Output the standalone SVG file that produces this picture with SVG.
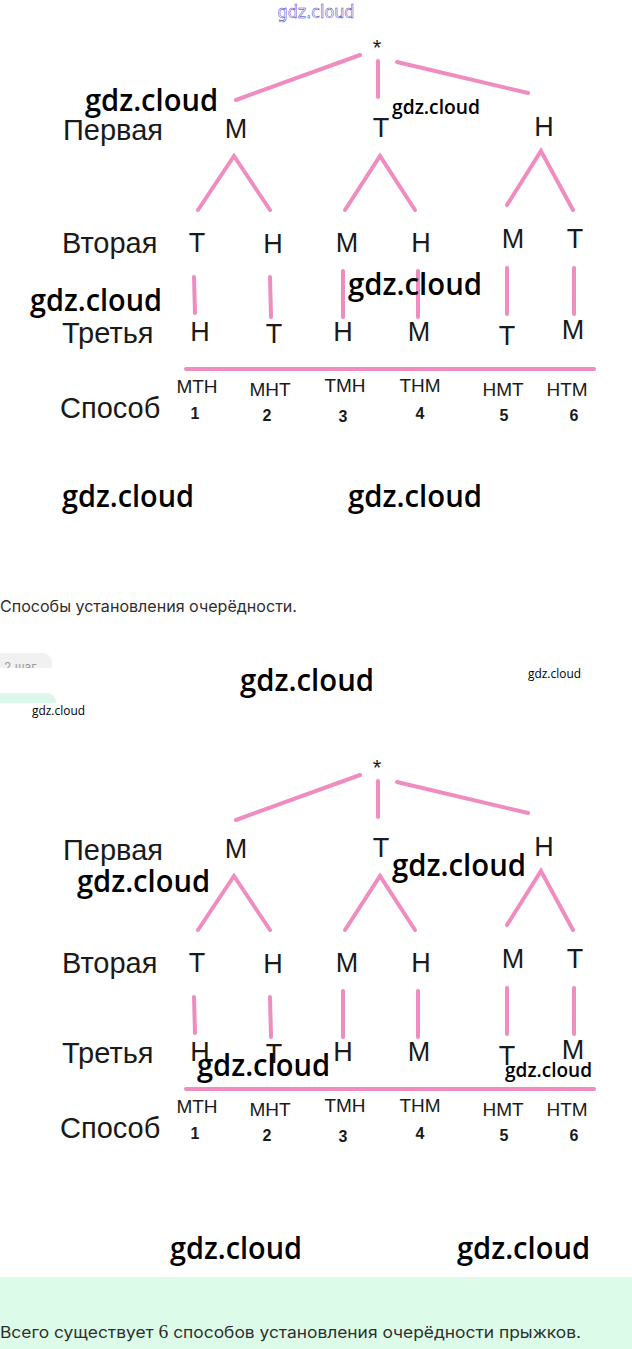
<svg xmlns="http://www.w3.org/2000/svg" width="632" height="1349" viewBox="0 0 632 1349">
<style>
.bg{fill:#ffffff}
.ln{stroke:#ef8cc0;stroke-width:4;stroke-linecap:round;fill:none}
.lt{font-family:"Liberation Sans",Arial,sans-serif;font-size:27px;fill:#1a1a1a;text-anchor:middle}
.lb{font-family:"Liberation Sans",Arial,sans-serif;font-size:29px;fill:#1a1a1a}
.cd{font-family:"Liberation Sans",Arial,sans-serif;font-size:19px;fill:#1a1a1a;text-anchor:middle}
.nm{font-family:"Liberation Sans",Arial,sans-serif;font-size:16px;font-weight:bold;fill:#1a1a1a;text-anchor:middle}
.st{font-family:"Liberation Sans",Arial,sans-serif;font-size:22px;fill:#1a1a1a;text-anchor:middle}
.wm{font-family:"Open Sans","Noto Sans",sans-serif;font-weight:600;fill:#000}
.wb{font-size:30px}
.wmm{font-size:19px}
.ws{font-size:12px;font-weight:400}
.body{font-family:Inter,"Noto Sans",sans-serif;font-size:16px;fill:#2e2e2e}
</style>
<rect class="bg" x="0" y="0" width="632" height="1349"/>
<text x="316" y="18" text-anchor="middle" font-family="'DejaVu Sans',sans-serif" font-size="17" fill="#ffffff" stroke="#3434c8" stroke-width="0.5" textLength="77" lengthAdjust="spacingAndGlyphs">gdz.cloud</text>

<!-- Diagram 1 -->
<g id="diagram1">
<g id="connectors1">
<line class="ln" x1="236" y1="100" x2="360" y2="55"/>
<line class="ln" x1="378" y1="61" x2="378" y2="97"/>
<line class="ln" x1="397" y1="62" x2="528" y2="93"/>
<polyline class="ln" points="198,210 234,156 270,210"/>
<polyline class="ln" points="345,210 380,156 415,210"/>
<polyline class="ln" points="507,205 541,151 573,210"/>
<line class="ln" x1="194" y1="277" x2="195" y2="313"/>
<line class="ln" x1="270" y1="277" x2="271" y2="317"/>
<line class="ln" x1="343" y1="271" x2="343" y2="317"/>
<line class="ln" x1="418" y1="271" x2="418" y2="317"/>
<line class="ln" x1="507" y1="268" x2="507" y2="314"/>
<line class="ln" x1="574" y1="268" x2="574" y2="314"/>
<line class="ln" x1="186" y1="369" x2="594" y2="369"/>
</g>
<g id="root1"><text class="st" x="377" y="55">*</text></g>
<g id="labels1">
<text class="lb" x="63" y="140">Первая</text>
<text class="lb" x="62" y="253">Вторая</text>
<text class="lb" x="62" y="343">Третья</text>
<text class="lb" x="60" y="418">Способ</text>
</g>
<g id="l1-M"><text class="lt" x="236" y="138">М</text></g>
<g id="l1-T"><text class="lt" x="381" y="137">Т</text></g>
<g id="l1-H"><text class="lt" x="544" y="136">Н</text></g>
<g id="l2-1"><text class="lt" x="197" y="252">Т</text></g>
<g id="l2-2"><text class="lt" x="273" y="253">Н</text></g>
<g id="l2-3"><text class="lt" x="347" y="252">М</text></g>
<g id="l2-4"><text class="lt" x="421" y="252">Н</text></g>
<g id="l2-5"><text class="lt" x="513" y="248">М</text></g>
<g id="l2-6"><text class="lt" x="575" y="248">Т</text></g>
<g id="l3-1"><text class="lt" x="200" y="341">Н</text></g>
<g id="l3-2"><text class="lt" x="274" y="343">Т</text></g>
<g id="l3-3"><text class="lt" x="343" y="341">Н</text></g>
<g id="l3-4"><text class="lt" x="419" y="341">М</text></g>
<g id="l3-5"><text class="lt" x="507" y="345">Т</text></g>
<g id="l3-6"><text class="lt" x="573" y="339">М</text></g>
<g id="way1-1"><text class="cd" x="197" y="393">МТН</text><text class="nm" x="195" y="419">1</text></g>
<g id="way1-2"><text class="cd" x="270" y="396">МНТ</text><text class="nm" x="267" y="421">2</text></g>
<g id="way1-3"><text class="cd" x="345" y="392">ТМН</text><text class="nm" x="343" y="422">3</text></g>
<g id="way1-4"><text class="cd" x="420" y="392">ТНМ</text><text class="nm" x="420" y="419">4</text></g>
<g id="way1-5"><text class="cd" x="503" y="396">НМТ</text><text class="nm" x="504" y="421">5</text></g>
<g id="way1-6"><text class="cd" x="567" y="396">НТМ</text><text class="nm" x="574" y="421">6</text></g>
</g>

<text class="body" x="0" y="612" textLength="297" lengthAdjust="spacingAndGlyphs">Способы установления очерёдности.</text>

<g id="badge">
<rect x="-10" y="653" width="62" height="22" rx="9" fill="#f1f1f1"/>
<text x="4" y="671" font-family="Inter,'Noto Sans',sans-serif" font-size="12" fill="#9a9a9a">2 шаг</text>
<rect x="-10" y="668" width="70" height="14" fill="#ffffff"/>
<rect x="-10" y="693" width="66" height="22" rx="9" fill="#dcf8ea"/>
<rect x="-10" y="703" width="80" height="14" fill="#ffffff"/>
</g>

<!-- Diagram 2 -->
<g id="diagram2" transform="translate(0,720)">
<g id="connectors2">
<line class="ln" x1="236" y1="100" x2="360" y2="55"/>
<line class="ln" x1="378" y1="61" x2="378" y2="97"/>
<line class="ln" x1="397" y1="62" x2="528" y2="93"/>
<polyline class="ln" points="198,210 234,156 270,210"/>
<polyline class="ln" points="345,210 380,156 415,210"/>
<polyline class="ln" points="507,205 541,151 573,210"/>
<line class="ln" x1="194" y1="277" x2="195" y2="313"/>
<line class="ln" x1="270" y1="277" x2="271" y2="317"/>
<line class="ln" x1="343" y1="271" x2="343" y2="317"/>
<line class="ln" x1="418" y1="271" x2="418" y2="317"/>
<line class="ln" x1="507" y1="268" x2="507" y2="314"/>
<line class="ln" x1="574" y1="268" x2="574" y2="314"/>
<line class="ln" x1="186" y1="369" x2="594" y2="369"/>
</g>
<g id="root2"><text class="st" x="377" y="55">*</text></g>
<g id="labels2">
<text class="lb" x="63" y="140">Первая</text>
<text class="lb" x="62" y="253">Вторая</text>
<text class="lb" x="62" y="343">Третья</text>
<text class="lb" x="60" y="418">Способ</text>
</g>
<g id="l1-M-2"><text class="lt" x="236" y="138">М</text></g>
<g id="l1-T-2"><text class="lt" x="381" y="137">Т</text></g>
<g id="l1-H-2"><text class="lt" x="544" y="136">Н</text></g>
<g id="l2-1-2"><text class="lt" x="197" y="252">Т</text></g>
<g id="l2-2-2"><text class="lt" x="273" y="253">Н</text></g>
<g id="l2-3-2"><text class="lt" x="347" y="252">М</text></g>
<g id="l2-4-2"><text class="lt" x="421" y="252">Н</text></g>
<g id="l2-5-2"><text class="lt" x="513" y="248">М</text></g>
<g id="l2-6-2"><text class="lt" x="575" y="248">Т</text></g>
<g id="l3-1-2"><text class="lt" x="200" y="341">Н</text></g>
<g id="l3-2-2"><text class="lt" x="274" y="343">Т</text></g>
<g id="l3-3-2"><text class="lt" x="343" y="341">Н</text></g>
<g id="l3-4-2"><text class="lt" x="419" y="341">М</text></g>
<g id="l3-5-2"><text class="lt" x="507" y="345">Т</text></g>
<g id="l3-6-2"><text class="lt" x="573" y="339">М</text></g>
<g id="way2-1"><text class="cd" x="197" y="393">МТН</text><text class="nm" x="195" y="419">1</text></g>
<g id="way2-2"><text class="cd" x="270" y="396">МНТ</text><text class="nm" x="267" y="421">2</text></g>
<g id="way2-3"><text class="cd" x="345" y="392">ТМН</text><text class="nm" x="343" y="422">3</text></g>
<g id="way2-4"><text class="cd" x="420" y="392">ТНМ</text><text class="nm" x="420" y="419">4</text></g>
<g id="way2-5"><text class="cd" x="503" y="396">НМТ</text><text class="nm" x="504" y="421">5</text></g>
<g id="way2-6"><text class="cd" x="567" y="396">НТМ</text><text class="nm" x="574" y="421">6</text></g>
</g>

<rect x="0" y="1277" width="632" height="72" fill="#dcfce9"/>
<text class="body" x="0" y="1338" textLength="581" lengthAdjust="spacingAndGlyphs">Всего существует <tspan font-family="'Liberation Serif','DejaVu Serif',serif" font-size="18">6</tspan> способов установления очерёдности прыжков.</text>

<g id="watermarks">
<text class="wm wb" x="85" y="111" textLength="133" lengthAdjust="spacingAndGlyphs">gdz.cloud</text>
<text class="wm wmm" x="392" y="114" textLength="88" lengthAdjust="spacingAndGlyphs">gdz.cloud</text>
<text class="wm wb" x="30" y="311" textLength="132" lengthAdjust="spacingAndGlyphs">gdz.cloud</text>
<text class="wm wb" x="348" y="295" textLength="134" lengthAdjust="spacingAndGlyphs">gdz.cloud</text>
<text class="wm wb" x="62" y="507" textLength="132" lengthAdjust="spacingAndGlyphs">gdz.cloud</text>
<text class="wm wb" x="348" y="507" textLength="134" lengthAdjust="spacingAndGlyphs">gdz.cloud</text>
<text class="wm wb" x="240" y="691" textLength="134" lengthAdjust="spacingAndGlyphs">gdz.cloud</text>
<text class="wm ws" x="528" y="678" textLength="53" lengthAdjust="spacingAndGlyphs">gdz.cloud</text>
<text class="wm ws" x="32" y="715" textLength="53" lengthAdjust="spacingAndGlyphs">gdz.cloud</text>
<text class="wm wb" x="77" y="892" textLength="133" lengthAdjust="spacingAndGlyphs">gdz.cloud</text>
<text class="wm wb" x="392" y="876" textLength="134" lengthAdjust="spacingAndGlyphs">gdz.cloud</text>
<text class="wm wb" x="197" y="1076" textLength="133" lengthAdjust="spacingAndGlyphs">gdz.cloud</text>
<text class="wm wmm" x="505" y="1077" textLength="87" lengthAdjust="spacingAndGlyphs">gdz.cloud</text>
<text class="wm wb" x="170" y="1259" textLength="132" lengthAdjust="spacingAndGlyphs">gdz.cloud</text>
<text class="wm wb" x="457" y="1259" textLength="133" lengthAdjust="spacingAndGlyphs">gdz.cloud</text>
</g>
</svg>
